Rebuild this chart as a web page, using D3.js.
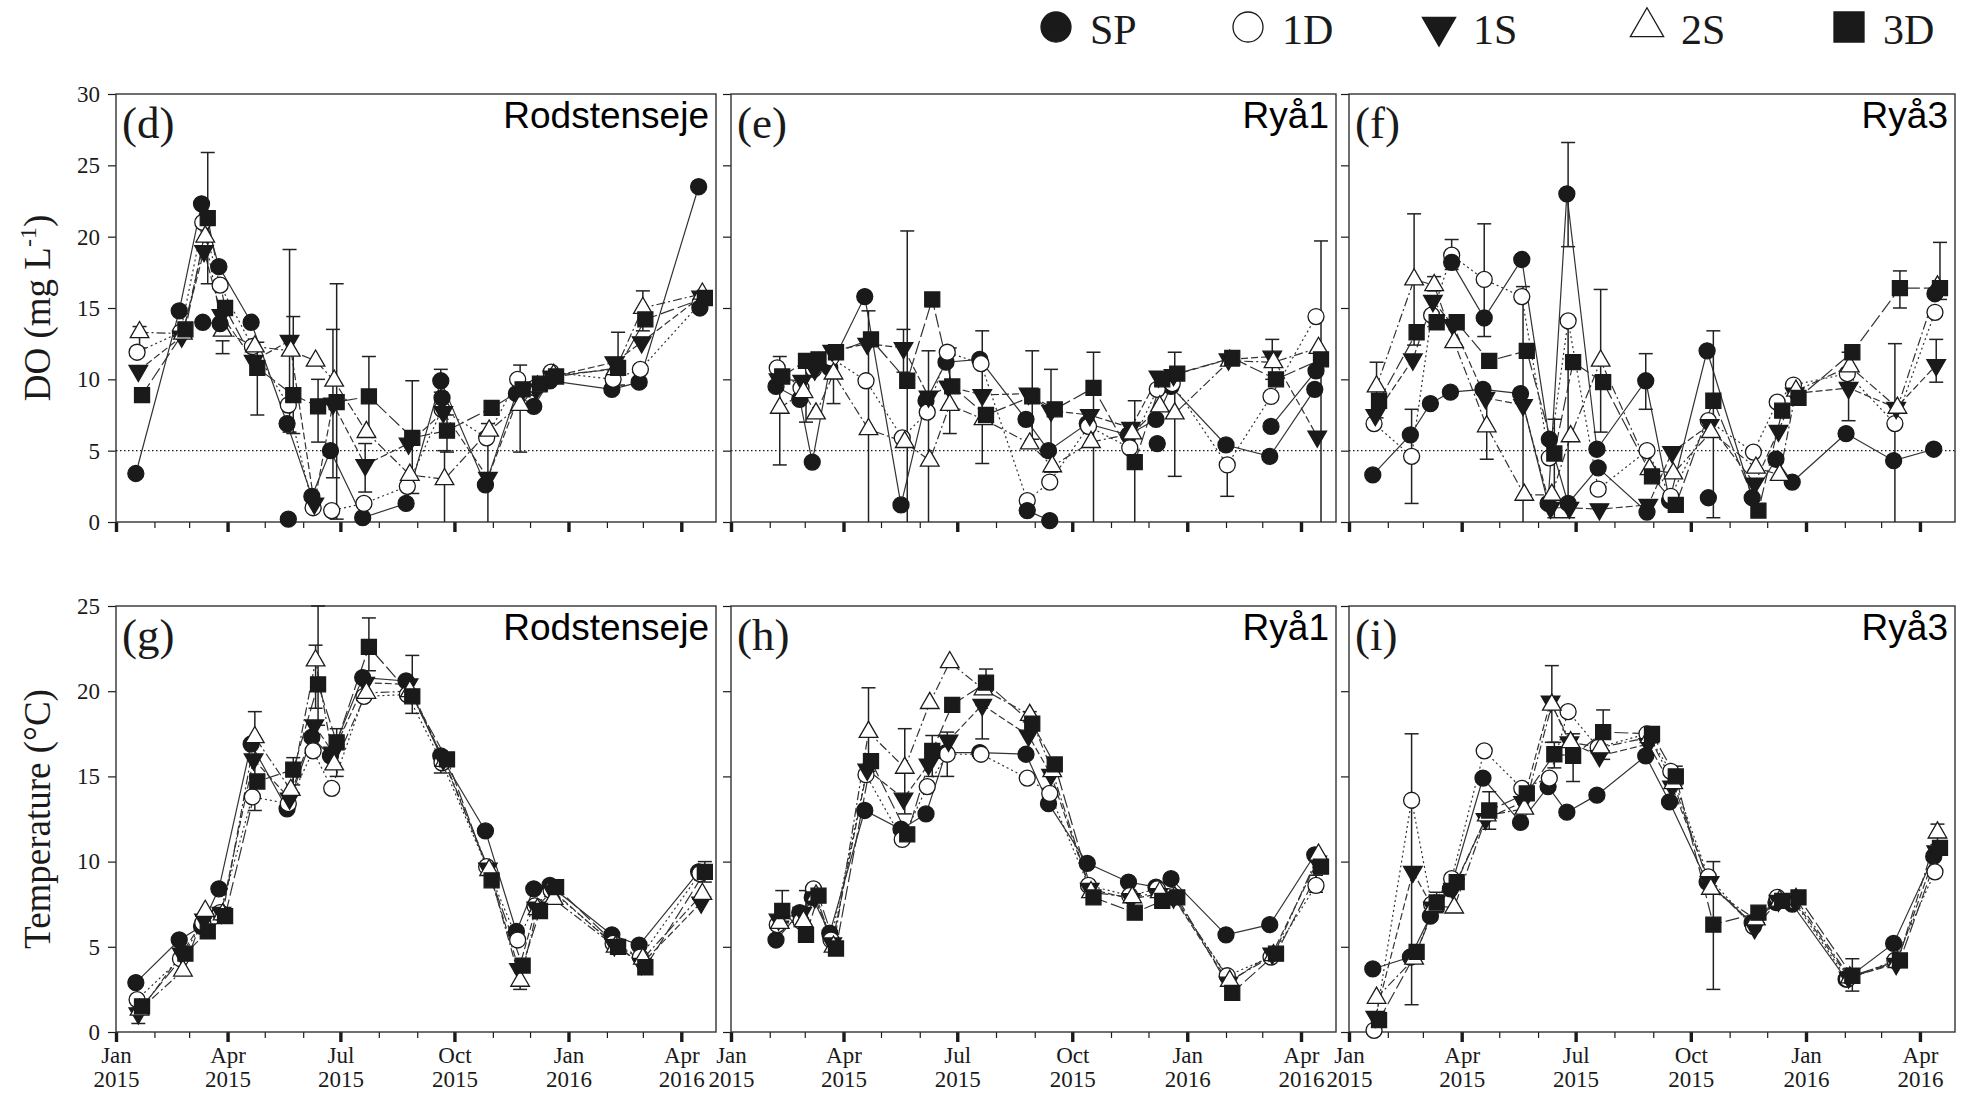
<!DOCTYPE html>
<html>
<head>
<meta charset="utf-8">
<script src="https://cdn.jsdelivr.net/npm/d3@7"></script>
<style>
  body { margin: 0; background: #fff; }
</style>
</head>
<body>
<svg id="chart"></svg>
<script>
var svgWidth = 1967;
var svgHeight = 1094;

// ---- data ----
var seriesKeys = ["SP", "1D", "1S", "2S", "3D"];

var rodDates = ["2015-01-17", "2015-02-21", "2015-03-11", "2015-03-25", "2015-04-20", "2015-05-19", "2015-06-08", "2015-06-23", "2015-07-19",
  "2015-08-23", "2015-09-20", "2015-10-26", "2015-11-20", "2015-12-04", "2015-12-17", "2016-02-05", "2016-02-27", "2016-04-15"];
var ryaOneDates = ["2015-02-06", "2015-02-25", "2015-03-07", "2015-03-21", "2015-04-18", "2015-05-17", "2015-06-06", "2015-06-22", "2015-07-19",
  "2015-08-25", "2015-09-12", "2015-10-13", "2015-11-15", "2015-12-07", "2015-12-19", "2016-02-01", "2016-03-07", "2016-04-12"];
var ryaThreeDates = ["2015-01-20", "2015-02-19", "2015-03-07", "2015-03-23", "2015-04-18", "2015-05-18", "2015-06-09", "2015-06-24", "2015-07-18",
  "2015-08-26", "2015-09-14", "2015-10-14", "2015-11-19", "2015-12-08", "2015-12-21", "2016-02-02", "2016-03-11", "2016-04-12"];

// rows: SP, 1D, 1S, 2S, 3D
var rodDo = [
  [3.4, 14.8, 22.3, 17.9, 14.0, 6.9, 1.8, 5.0, 0.3, 1.3, 9.9, 2.6, 9.0, 8.1, 9.9, 9.3, 9.8, 23.5],
  [11.9, 13.3, 21.0, 16.6, 12.3, 8.2, 1.0, 0.8, 1.3, 2.5, 7.9, 5.9, 10.0, 9.4, 10.5, 10.0, 10.7, 15.3],
  [10.6, 13.0, 19.0, 14.5, 11.3, 12.7, 1.3, 8.3, 4.0, 5.5, 7.7, 3.1, 8.8, 9.3, 10.2, 11.2, 12.6, 15.8],
  [13.3, 13.2, 20.0, 13.4, 12.3, 12.0, 11.3, 9.9, 6.3, 3.3, 3.0, 6.4, 8.2, 9.5, 10.3, 10.7, 15.0, 16.0],
  [8.9, 13.5, 21.3, 15.0, 10.8, 8.9, 8.1, 8.4, 8.8, 5.9, 6.4, 8.0, 9.3, 9.7, 10.2, 10.8, 14.2, 15.7]
];
var rodDoExtra = [null, null, 14.0, 13.9, null, 0.2, null, null, null, null, 8.7, null, null, null, null, null, null, 15.0];
// [sample, series, low, high]
var rodDoErr = [[0, 3, 12.2, 13.7], [2, 4, 16.7, 25.9], [3, 3, 11.8, 12.7], [4, 4, 7.5, 12.6], [5, 2, 6.3, 19.1], [5, 4, 6.2, 14.4],
  [6, 4, 5.6, 10.0], [7, 4, 0.2, 16.7], [7, 2, 3.1, 13.5], [8, 4, 6.0, 11.6], [8, 2, 2.1, 5.5], [9, 4, 2.0, 9.9], [10, 0, 9.1, 10.7],
  [10, 3, 0.0, 5.0], [10, 4, 4.9, 7.5], [11, 2, 0.0, 6.9], [12, 3, 4.9, 11.0], [15, 4, 9.6, 13.3], [16, 3, 13.4, 16.2]];

var rodTemp = [
  [2.9, 5.4, 6.2, 8.4, 16.9, 13.1, 17.3, 16.2, 20.8, 20.6, 16.2, 11.8, 5.9, 8.4, 8.6, 5.7, 5.1, 9.4],
  [1.9, 4.3, 6.4, 7.0, 13.8, 13.4, 16.5, 14.3, 19.7, 19.8, 15.8, 9.7, 5.4, 7.4, 8.3, 5.2, 4.4, 9.3],
  [1.1, 4.6, 6.6, 7.0, 16.0, 13.7, 18.0, 16.4, 20.5, 20.4, 16.0, 9.6, 3.7, 7.3, 8.3, 5.1, 4.0, 7.6],
  [1.3, 3.6, 7.1, 6.9, 17.3, 14.2, 21.8, 15.7, 19.9, 20.0, 15.9, 9.5, 3.0, 7.2, 7.8, 5.0, 4.3, 8.1],
  [1.5, 4.6, 5.9, 6.8, 14.7, 15.4, 20.4, 17.0, 22.6, 19.7, 16.0, 8.9, 3.9, 7.1, 8.5, 5.0, 3.8, 9.4]
];
var rodTempErr = [[0, 2, 0.5, 1.4], [4, 3, 13.0, 18.8], [5, 4, 14.5, 16.1], [6, 3, 19.0, 22.7], [6, 4, 18.0, 25.0], [7, 4, 15.0, 17.8],
  [8, 4, 21.2, 24.3], [9, 4, 18.7, 22.1], [10, 0, 15.2, 16.5], [12, 3, 2.5, 3.6], [17, 4, 8.8, 10.0]];

var ryaOneDo = [
  [9.5, 8.6, 4.2, 10.8, 15.8, 1.2, 8.5, 11.2, 11.4, 7.2, 5.0, 6.9, 6.1, 7.2, 9.5, 5.4, 4.6, 9.3],
  [10.8, 9.4, 10.7, 11.5, 9.9, 5.9, 7.7, 11.9, 11.1, 1.5, 2.8, 6.7, 5.2, 9.3, 9.7, 4.0, 8.8, 14.4],
  [10.0, 9.9, 10.7, 12.0, 12.5, 12.2, 8.8, 9.5, 8.9, 9.0, 7.8, 7.5, 6.6, 10.2, 10.3, 11.4, 11.6, 6.0],
  [8.0, 9.1, 7.6, 10.4, 6.5, 5.6, 4.3, 8.2, 7.2, 5.5, 3.9, 5.6, 6.2, 8.1, 7.6, 11.3, 11.2, 12.2],
  [10.2, 11.3, 11.4, 11.9, 12.8, 9.9, 15.6, 9.5, 7.5, 8.8, 7.9, 9.4, 4.2, 10.0, 10.4, 11.5, 10.0, 11.4]
];
var ryaOneDoExtra = [null, null, null, null, null, null, null, null, null, 0.8, 0.1, null, null, 5.5, null, null, 6.7, 10.6];
var ryaOneDoErr = [[0, 3, 4.0, 11.6], [1, 4, 7.0, 11.6], [3, 3, 8.3, 12.0], [4, 3, 0.0, 14.8], [5, 4, 0.0, 20.4], [5, 2, 10.5, 13.5],
  [6, 4, 15.1, 16.0], [6, 2, 0.0, 12.0], [7, 3, 6.2, 12.2], [8, 2, 4.1, 13.4], [9, 4, 5.8, 12.0], [10, 2, 3.5, 10.7], [11, 4, 0.0, 11.9],
  [12, 4, 0.0, 8.5], [14, 3, 3.2, 11.9], [15, 4, 11.0, 11.9], [15, 1, 1.8, 4.0], [16, 2, 10.0, 12.8], [17, 4, 0.0, 19.7]];

var ryaOneTemp = [
  [5.4, 7.0, 7.9, 5.8, 13.0, 11.9, 12.8, 16.4, 16.4, 16.3, 13.4, 9.9, 8.8, 8.5, 9.0, 5.7, 6.3, 10.4],
  [6.3, 6.5, 8.4, 5.4, 15.1, 11.3, 14.4, 16.3, 16.3, 14.9, 14.0, 8.6, 8.0, 8.4, 8.0, 3.3, 4.4, 8.6],
  [6.6, 7.0, 7.9, 5.2, 15.4, 13.7, 15.7, 17.1, 19.2, 17.4, 15.1, 8.4, 7.8, 8.1, 7.9, 2.9, 4.6, 10.0],
  [6.4, 6.5, 8.0, 5.0, 17.6, 15.5, 19.3, 21.7, 20.1, 18.6, 15.3, 8.2, 7.9, 8.2, 7.9, 3.0, 4.5, 10.4],
  [7.1, 5.7, 8.0, 4.9, 15.9, 11.6, 16.5, 19.2, 20.5, 18.1, 15.7, 7.9, 7.0, 7.7, 7.9, 2.3, 4.6, 9.7]
];
var ryaOneTempErr = [[0, 4, 6.5, 8.3], [1, 4, 5.9, 8.3], [3, 4, 4.5, 5.3], [4, 3, 15.3, 20.2], [5, 3, 12.8, 17.8], [6, 4, 15.0, 17.4],
  [7, 1, 15.0, 17.6], [8, 4, 20.0, 21.3], [8, 2, 17.2, 19.2], [9, 3, 18.2, 18.8], [17, 1, 8.2, 9.2]];

var ryaThreeDo = [
  [3.3, 6.1, 8.3, 9.1, 9.3, 9.0, 1.3, 23.0, 5.1, 9.9, 1.5, 12.0, 1.7, 4.4, 2.8, 6.2, 4.3, 5.1],
  [6.9, 4.6, 14.5, 18.7, 17.0, 15.8, 4.5, 14.1, 2.3, 5.0, 1.8, 7.1, 4.9, 8.4, 9.6, 10.4, 6.9, 14.7],
  [7.5, 11.4, 15.5, 13.8, 8.7, 8.2, 1.0, 1.0, 0.9, 1.2, 4.9, 6.8, 2.7, 6.4, 9.0, 9.4, 8.0, 11.0],
  [9.5, 17.0, 16.6, 12.6, 6.7, 1.9, 1.9, 6.0, 11.3, 3.7, 3.4, 6.3, 3.8, 3.3, 9.2, 10.9, 8.0, 16.5],
  [8.5, 13.3, 14.0, 14.0, 11.3, 12.0, 4.8, 11.2, 9.8, 3.2, 1.2, 8.5, 0.8, 7.8, 8.7, 11.9, 16.4, 16.4]
];
var ryaThreeDoExtra = [null, null, null, 18.2, 14.3, 18.4, 5.8, 1.3, 3.8, 0.7, null, 1.7, null, null, null, null, null, 16.0];
var ryaThreeDoErr = [[0, 3, 7.3, 11.2], [1, 3, 12.4, 21.6], [1, 1, 1.3, 7.9], [2, 3, 16.2, 17.2], [3, 1, 17.7, 19.8], [4, 1, 13.0, 20.9],
  [4, 3, 4.4, 9.0], [5, 2, 0.0, 16.5], [6, 4, 0.3, 7.2], [7, 5, 19.3, 26.6], [7, 1, 0.3, 14.0], [8, 3, 6.3, 16.3], [9, 0, 7.9, 11.8],
  [11, 4, 0.3, 13.4], [15, 2, 7.1, 11.9], [16, 4, 15.0, 17.6], [16, 1, 0.0, 12.5], [17, 4, 15.6, 19.6], [17, 2, 9.8, 12.8]];

var ryaThreeTemp = [
  [3.7, 4.4, 6.8, 8.4, 14.9, 12.3, 14.4, 12.9, 13.9, 16.2, 13.5, 8.8, 6.4, 7.6, 7.5, 3.1, 5.2, 10.3],
  [0.1, 13.6, 7.5, 9.0, 16.5, 14.3, 14.9, 18.8, 16.7, 17.5, 15.3, 9.1, 6.2, 7.9, 7.7, 3.1, 4.2, 9.4],
  [0.9, 9.4, 7.3, 8.4, 12.5, 13.5, 19.4, 17.0, 16.2, 16.9, 14.4, 8.8, 6.1, 7.7, 7.7, 3.2, 4.0, 10.6],
  [2.0, 4.3, 7.4, 7.3, 12.7, 13.1, 19.2, 17.0, 16.7, 17.3, 14.6, 8.4, 6.6, 7.7, 7.8, 3.2, 4.1, 11.7],
  [0.7, 4.7, 7.6, 8.8, 13.0, 14.0, 16.3, 16.2, 17.6, 17.5, 15.0, 6.3, 7.0, 7.7, 7.9, 3.3, 4.2, 10.8]
];
var ryaThreeTempErr = [[1, 1, 1.6, 17.5], [2, 4, 7.0, 8.2], [4, 4, 11.9, 14.1], [6, 3, 17.0, 21.5], [6, 4, 15.5, 17.0], [7, 4, 14.7, 17.5],
  [8, 4, 16.0, 18.9], [9, 4, 17.0, 17.9], [10, 4, 14.5, 15.6], [11, 4, 2.5, 10.0], [15, 4, 2.4, 4.3], [17, 3, 11.0, 12.2]];

var doTicks = [0, 5, 10, 15, 20, 25, 30];
var tempTicks = [0, 5, 10, 15, 20, 25];
var doLimit = 5;

// ---- styles ----
var shapes = ["dot", "ring", "down", "up", "square", "dot"];
var dayShift = [0, 1, 2, 3, 5, 1];
var dashes = [null, "2,3", "7,3", "9,3,2,3", "14,4", null];
var serif = "'Liberation Serif', 'DejaVu Serif', serif";
var sans = "'Liberation Sans', Arial, sans-serif";
var ink = "#1a1a1a";

var columns = [{x0: 116, x1: 716}, {x0: 731, x1: 1336}, {x0: 1349, x1: 1955}];
var rows = [{y0: 94, y1: 522}, {y0: 606, y1: 1032}];

var parseDate = d3.timeParse("%Y-%m-%d");
var xStart = parseDate("2015-01-01");
var xEnd = parseDate("2016-04-29");
var quarterStarts = d3.timeMonth.every(3).range(xStart, xEnd);
var monthStarts = d3.timeMonth.range(xStart, xEnd).filter(d => d.getMonth() % 3 != 0);

var svg = d3.select("#chart")
  .attr("width", svgWidth)
  .attr("height", svgHeight);

svg.append("rect").attr("width", svgWidth).attr("height", svgHeight).attr("fill", "#fff");

function symbolPath(shape, big) {
  var k = big ? 1 : 0;
  if (shape == "dot" || shape == "ring") return d3.symbol().type(d3.symbolCircle).size([201, 707][k])();
  if (shape == "square") return d3.symbol().type(d3.symbolSquare).size([225, 900][k])();
  return d3.symbol().type(d3.symbolTriangle).size([150, 480][k])();
}

function addMarker(g, shape, cx, cy, big) {
  var rot = shape == "down" ? " rotate(180)" : "";
  g.append("path")
    .attr("d", symbolPath(shape, big))
    .attr("transform", `translate(${cx},${cy})${rot}`)
    .attr("fill", (shape == "ring" || shape == "up") ? "#fff" : ink)
    .attr("stroke", ink)
    .attr("stroke-width", 1.3);
}

var panels = [
  {row: 0, col: 0, tag: "(d)", site: "Rodstenseje", dates: rodDates, vals: rodDo, extra: rodDoExtra, errs: rodDoErr, ticks: doTicks},
  {row: 0, col: 1, tag: "(e)", site: "Ryå1", dates: ryaOneDates, vals: ryaOneDo, extra: ryaOneDoExtra, errs: ryaOneDoErr, ticks: doTicks},
  {row: 0, col: 2, tag: "(f)", site: "Ryå3", dates: ryaThreeDates, vals: ryaThreeDo, extra: ryaThreeDoExtra, errs: ryaThreeDoErr, ticks: doTicks},
  {row: 1, col: 0, tag: "(g)", site: "Rodstenseje", dates: rodDates, vals: rodTemp, extra: null, errs: rodTempErr, ticks: tempTicks},
  {row: 1, col: 1, tag: "(h)", site: "Ryå1", dates: ryaOneDates, vals: ryaOneTemp, extra: null, errs: ryaOneTempErr, ticks: tempTicks},
  {row: 1, col: 2, tag: "(i)", site: "Ryå3", dates: ryaThreeDates, vals: ryaThreeTemp, extra: null, errs: ryaThreeTempErr, ticks: tempTicks}
];

panels.forEach(function(p) {
  var col = columns[p.col], row = rows[p.row];
  var xScale = d3.scaleTime().domain([xStart, xEnd]).range([col.x0, col.x1]);
  var yScale = d3.scaleLinear().domain([0, d3.max(p.ticks)]).range([row.y1, row.y0]);
  var g = svg.append("g");
  var dates = p.dates.map(parseDate);
  var xAt = (i, s) => xScale(d3.timeDay.offset(dates[i], dayShift[s]));

  // axes
  var minor = g.append("g")
    .attr("transform", `translate(0, ${row.y1})`)
    .call(d3.axisBottom(xScale).tickValues(monthStarts).tickSize(6).tickFormat(""));
  minor.select(".domain").remove();
  minor.selectAll(".tick line").attr("stroke", ink).attr("stroke-width", 1.2);

  var major = g.append("g")
    .attr("transform", `translate(0, ${row.y1})`)
    .call(d3.axisBottom(xScale).tickValues(quarterStarts).tickSize(10).tickFormat(""));
  major.select(".domain").remove();
  major.selectAll(".tick line").attr("stroke", ink).attr("stroke-width", 3.4);
  if (p.row == 1) {
    var lab = major.selectAll(".tick").append("text")
      .attr("fill", ink)
      .attr("font-family", serif)
      .attr("font-size", 23)
      .attr("text-anchor", "middle");
    lab.append("tspan").attr("x", 0).attr("y", 31).text(d => d3.timeFormat("%b")(d));
    lab.append("tspan").attr("x", 0).attr("y", 55).text(d => d3.timeFormat("%Y")(d));
  }

  var left = g.append("g")
    .attr("transform", `translate(${col.x0}, 0)`)
    .call(d3.axisLeft(yScale).tickValues(p.ticks).tickSize(8).tickPadding(8)
      .tickFormat(p.col == 0 ? d3.format("d") : ""));
  left.select(".domain").remove();
  left.selectAll(".tick line").attr("stroke", ink).attr("stroke-width", 1.2);
  left.selectAll(".tick text").attr("fill", ink).attr("font-family", serif).attr("font-size", 23);

  g.append("rect")
    .attr("x", col.x0).attr("y", row.y0)
    .attr("width", col.x1 - col.x0).attr("height", row.y1 - row.y0)
    .attr("fill", "none").attr("stroke", "#333").attr("stroke-width", 1.4);

  if (p.row == 0) {
    g.append("line")
      .attr("x1", col.x0).attr("x2", col.x1)
      .attr("y1", yScale(doLimit)).attr("y2", yScale(doLimit))
      .attr("stroke", ink).attr("stroke-width", 1.4).attr("stroke-dasharray", "1.5,2.5");
  }

  var all = p.vals.slice();
  if (p.extra) all.push(p.extra);

  // lines
  all.forEach(function(vals, s) {
    var line = d3.line()
      .defined(d => d != null)
      .x((d, i) => xAt(i, s))
      .y(d => yScale(d));
    g.append("path")
      .attr("d", line(vals))
      .attr("fill", "none")
      .attr("stroke", "#333")
      .attr("stroke-width", 1.2)
      .attr("stroke-dasharray", dashes[s]);
  });

  // error bars
  p.errs.forEach(function(e) {
    var ex = xAt(e[0], e[1]);
    var eb = g.append("g").attr("stroke", "#222").attr("stroke-width", 1.5);
    eb.append("line").attr("x1", ex).attr("x2", ex).attr("y1", yScale(e[2])).attr("y2", yScale(e[3]));
    [e[2], e[3]].forEach(function(v) {
      if (v > 0) eb.append("line").attr("x1", ex - 7).attr("x2", ex + 7).attr("y1", yScale(v)).attr("y2", yScale(v));
    });
  });

  // markers
  all.forEach(function(vals, s) {
    vals.forEach(function(v, i) {
      if (v != null) addMarker(g, shapes[s], xAt(i, s), yScale(v), false);
    });
  });

  g.append("text")
    .attr("x", col.x0 + 6).attr("y", row.y0 + 44)
    .attr("font-family", serif).attr("font-size", 45).attr("fill", ink)
    .text(p.tag);
  g.append("text")
    .attr("x", col.x1 - 7).attr("y", row.y0 + 34)
    .attr("text-anchor", "end")
    .attr("font-family", sans).attr("font-size", 37).attr("fill", "#000")
    .text(p.site);
});

// y titles
var doTitle = svg.append("text")
  .attr("transform", `translate(50, ${(rows[0].y0 + rows[0].y1) / 2}) rotate(-90)`)
  .attr("text-anchor", "middle")
  .attr("font-family", serif).attr("font-size", 37).attr("fill", ink);
doTitle.append("tspan").text("DO (mg L");
doTitle.append("tspan").attr("dy", -14).attr("font-size", 24).text("-1");
doTitle.append("tspan").attr("dy", 14).text(")");

svg.append("text")
  .attr("transform", `translate(50, ${(rows[1].y0 + rows[1].y1) / 2}) rotate(-90)`)
  .attr("text-anchor", "middle")
  .attr("font-family", serif).attr("font-size", 37).attr("fill", ink)
  .text("Temperature (°C)");

// legend
var legendX = [1056, 1248, 1439, 1647, 1849];
var legend = svg.append("g");
seriesKeys.forEach(function(key, s) {
  addMarker(legend, shapes[s], legendX[s], 27, true);
  legend.append("text")
    .attr("x", legendX[s] + 34).attr("y", 44)
    .attr("font-family", serif).attr("font-size", 42).attr("fill", ink)
    .text(key);
});
</script>
</body>
</html>
